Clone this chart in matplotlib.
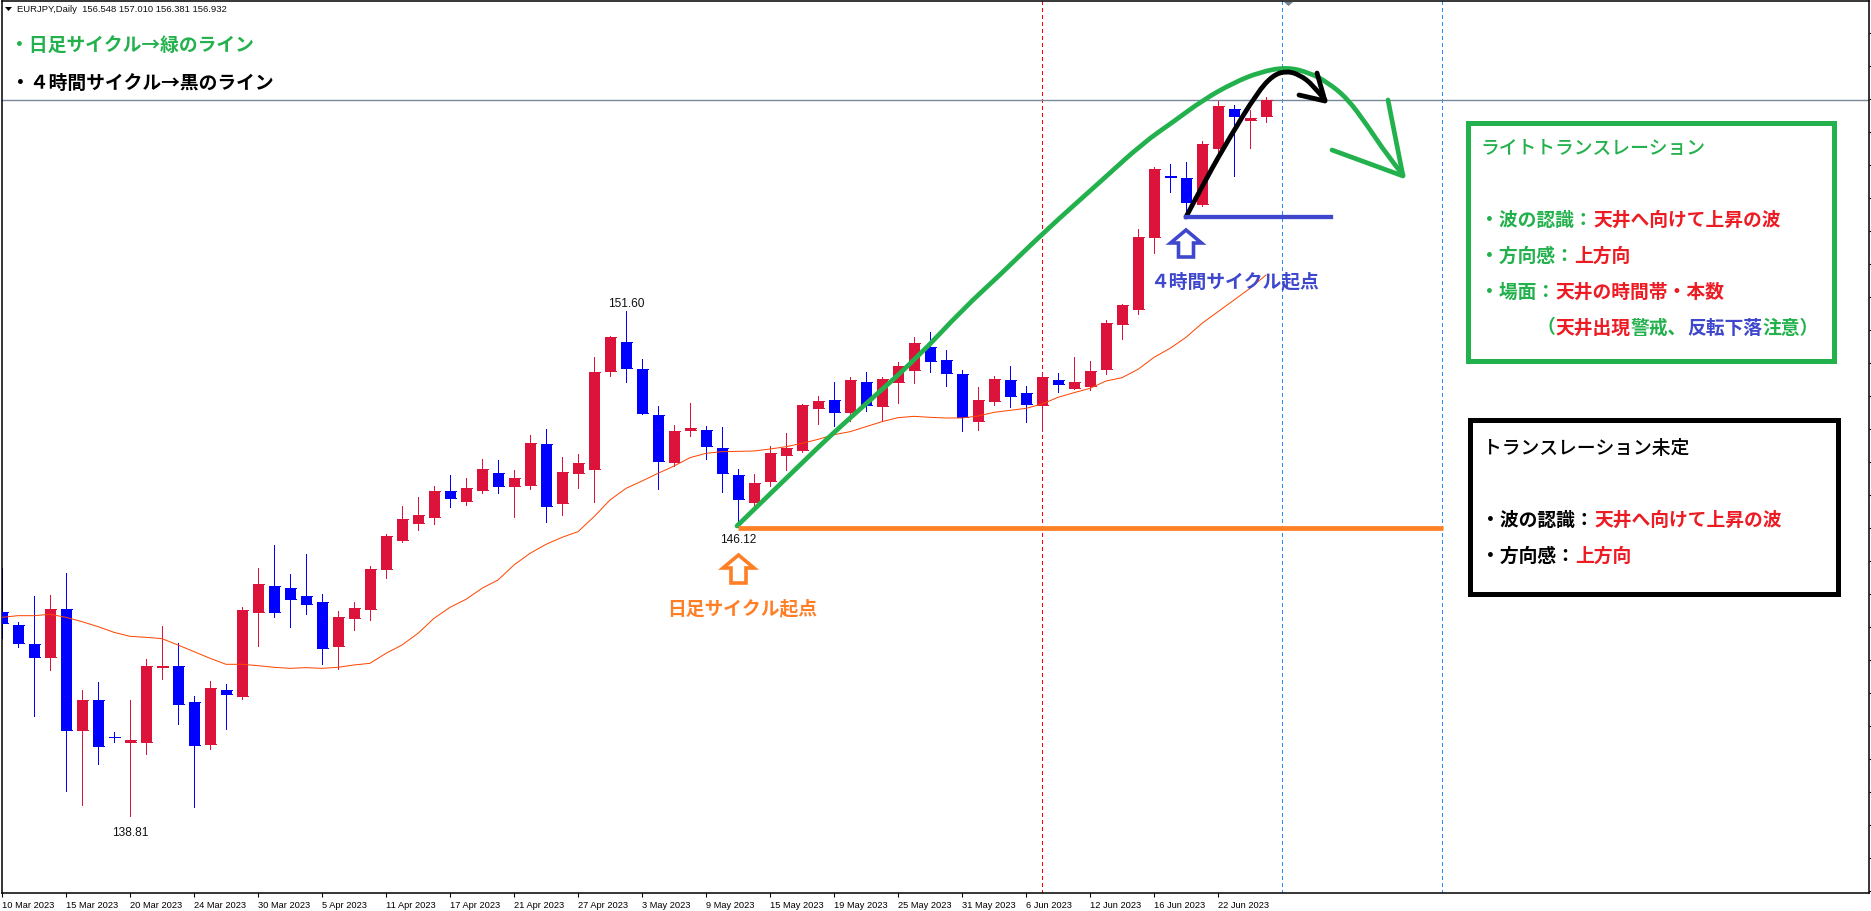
import matplotlib
matplotlib.use('Agg')
import matplotlib.pyplot as plt
from matplotlib.patches import Polygon, Rectangle, PathPatch
from matplotlib.path import Path

plt.rcParams['font.family'] = ['Noto Sans CJK JP', 'DejaVu Sans']

# EURJPY daily bars
opens = [143.976, 143.647, 143.166, 142.836, 144.052, 140.987, 141.747, 140.819, 140.683, 140.683,
         142.583, 142.608, 141.697, 140.633, 142.001, 141.849, 143.976, 144.635, 144.584, 144.382,
         144.23, 143.115, 143.824, 144.052, 145.065, 145.8, 146.231, 146.383, 147.041, 146.788,
         147.066, 147.497, 147.168, 147.193, 148.232, 146.737, 147.497, 147.598, 150.08, 150.815,
         150.131, 148.966, 147.775, 148.586, 148.586, 148.13, 147.446, 146.762, 147.294, 147.952,
         148.079, 149.143, 149.346, 149.042, 149.801, 149.194, 149.801, 150.105, 150.688, 150.359,
         150.004, 148.814, 149.32, 149.852, 149.523, 149.219, 149.852, 149.649, 149.7, 150.131,
         151.27, 151.65, 153.474, 155.019, 154.968, 154.31, 155.728, 156.716, 156.438, 156.548]
highs = [145.082, 143.723, 144.382, 144.407, 144.964, 142.001, 142.203, 140.937, 141.747, 142.786,
         143.622, 143.191, 141.849, 142.229, 142.153, 144.103, 145.091, 145.673, 144.939, 145.445,
         144.432, 144.002, 144.23, 145.141, 145.952, 146.661, 146.889, 147.168, 147.446, 147.37,
         147.852, 147.826, 147.573, 148.459, 148.611, 147.902, 147.978, 150.435, 150.967, 151.6,
         150.384, 149.194, 148.712, 149.27, 148.687, 148.662, 147.598, 147.471, 148.18, 148.51,
         149.244, 149.447, 149.801, 149.928, 150.055, 149.928, 150.308, 150.941, 151.068, 150.612,
         150.105, 149.675, 149.953, 150.207, 149.7, 150.004, 150.029, 150.435, 150.333, 151.372,
         151.777, 153.677, 155.247, 155.323, 155.374, 155.906, 156.919, 156.817, 156.691, 157.01]
lows = [143.326, 143.09, 141.342, 142.507, 139.442, 139.088, 140.126, 140.683, 138.81, 140.38,
        142.279, 141.139, 139.037, 140.506, 141.013, 141.773, 143.115, 143.85, 143.596, 143.926,
        142.659, 142.533, 143.52, 143.774, 144.837, 145.749, 146.053, 146.205, 146.636, 146.686,
        146.99, 146.99, 146.383, 147.092, 146.256, 146.433, 147.117, 146.762, 149.953, 149.801,
        148.991, 147.091, 147.674, 148.434, 147.851, 147.015, 146.12, 146.644, 147.167, 147.572,
        148.028, 148.738, 148.687, 148.814, 149.067, 148.814, 149.27, 149.776, 150.055, 149.7,
        148.56, 148.586, 149.219, 149.168, 148.788, 148.586, 149.548, 149.624, 149.599, 150.004,
        150.89, 151.524, 153.069, 154.614, 154.073, 154.259, 155.551, 155.019, 155.728, 156.381]
closes = [143.698, 143.191, 142.836, 144.052, 140.987, 141.747, 140.582, 140.81, 140.734, 142.608,
          142.608, 141.646, 140.607, 142.051, 141.899, 144.027, 144.685, 143.976, 144.306, 144.179,
          143.064, 143.85, 144.078, 145.065, 145.901, 146.332, 146.433, 147.041, 146.864, 147.117,
          147.598, 147.168, 147.37, 148.257, 146.661, 147.522, 147.75, 150.055, 150.941, 150.156,
          149.016, 147.8, 148.56, 148.636, 148.18, 147.497, 146.838, 147.243, 148.003, 148.13,
          149.219, 149.32, 149.042, 149.852, 149.219, 149.877, 150.207, 150.789, 150.333, 150.029,
          148.915, 149.346, 149.877, 149.447, 149.244, 149.928, 149.751, 149.801, 150.08, 151.296,
          151.752, 153.474, 155.196, 154.994, 154.361, 155.83, 156.792, 156.539, 156.488, 156.932]
ma_line = [143.841, 143.883, 143.883, 143.917, 143.841, 143.731, 143.605, 143.461, 143.36, 143.335,
           143.301, 143.14, 142.972, 142.803, 142.651, 142.651, 142.617, 142.575, 142.549, 142.566,
           142.549, 142.575, 142.634, 142.676, 142.929, 143.14, 143.436, 143.816, 144.094, 144.297,
           144.576, 144.787, 145.167, 145.462, 145.69, 145.867, 146.011, 146.39, 146.813, 147.108,
           147.294, 147.488, 147.674, 147.885, 147.995, 148.037, 148.045, 148.054, 148.104, 148.163,
           148.248, 148.349, 148.467, 148.543, 148.67, 148.797, 148.898, 148.932, 148.907, 148.89,
           148.89, 148.94, 149.033, 149.084, 149.134, 149.244, 149.413, 149.531, 149.641, 149.827,
           149.911, 150.122, 150.426, 150.654, 150.933, 151.287, 151.583, 151.878, 152.174, 152.512]

tick_bars = list(range(0, 80, 4))
date_labels = ['10 Mar 2023', '15 Mar 2023', '20 Mar 2023', '24 Mar 2023', '30 Mar 2023', '5 Apr 2023',
               '11 Apr 2023', '17 Apr 2023', '21 Apr 2023', '27 Apr 2023', '3 May 2023', '9 May 2023',
               '15 May 2023', '19 May 2023', '25 May 2023', '31 May 2023', '6 Jun 2023', '12 Jun 2023',
               '16 Jun 2023', '22 Jun 2023']
price_ticks = [158.65, 157.81, 156.98, 156.14, 155.31, 154.47, 153.63, 152.80, 151.96, 151.13, 150.29,
               149.45, 148.62, 147.78, 146.95, 146.11, 145.27, 144.44, 143.60, 142.77, 141.93, 141.09,
               140.26, 139.42, 138.59, 137.75, 136.91]

# hand drawn lines, in picture pixels
green_curve = [(737, 526), (803, 462), (831, 435), (867, 403), (917, 358), (964, 308), (1000, 275),
               (1043, 233), (1100, 182), (1143, 143), (1173, 122), (1203, 100), (1233, 83), (1260, 72),
               (1287, 67), (1310, 73), (1327, 82), (1347, 98), (1367, 125), (1387, 155), (1403, 175)]
green_head = [(1388, 100), (1403, 176), (1332, 150)]
black_curve = [(1186, 217), (1207, 177), (1230, 137), (1257, 93), (1273, 75), (1287, 71), (1300, 75),
               (1313, 85), (1325, 100)]
black_head = [(1317, 73), (1325, 101), (1299, 95)]

GREEN = '#22B14C'
BLACK = '#000000'
RED = '#ED1C24'
BLUE = '#3F48CC'
ORANGE = '#FF7F27'
UP = '#DC143C'
DOWN = '#0000FF'
EM = 18.8

fig = plt.figure(figsize=(18.71, 9.11), dpi=100, facecolor='white')
ax = fig.add_axes([2 / 1871, (911 - 893) / 911, (1869 - 2) / 1871, (893 - 1) / 911])
ax.set_xlim(0, (1869 - 2) / 16)
ax.set_ylim(151.6 - (893 - 311) / 39.48, 151.6 + (311 - 1) / 39.48)
for s in ax.spines.values():
    s.set_linewidth(1.1)

ax.axvline(65, color='#FF0000', lw=0.75, ls=(0, (3, 3)), zorder=1, antialiased=False)
ax.axvline(80, color='#1E90FF', lw=0.75, ls=(0, (3, 3)), zorder=1, antialiased=False)
ax.axvline(90, color='#1E90FF', lw=0.75, ls=(0, (3, 3)), zorder=1, antialiased=False)
ax.axhline(closes[-1], color='#778899', lw=1, zorder=1)

bars = list(range(len(opens)))
colors = [UP if c >= o else DOWN for o, c in zip(opens, closes)]
half = 5.5 / 16
ax.vlines(bars, lows, highs, colors=colors, lw=0.72, zorder=2, antialiased=False, capstyle='butt')
ax.bar(bars, [abs(c - o) for o, c in zip(opens, closes)], bottom=[min(o, c) for o, c in zip(opens, closes)],
       width=half * 2, color=colors, linewidth=0, zorder=3)
ax.hlines(closes, [b - half for b in bars], [b + half for b in bars], colors=colors, lw=0.72, zorder=3,
          antialiased=False, capstyle='butt')
ax.hlines(opens, [b - half for b in bars], [b + half for b in bars], colors=colors, lw=0.72, zorder=3,
          antialiased=False, capstyle='butt')
ax.plot(bars, ma_line, color='#FF4500', lw=0.72, zorder=4)

ax.set_xticks(tick_bars)
ax.set_xticklabels(date_labels, family='Liberation Sans', fontsize=6.7, ha='left')
ax.set_yticks(price_ticks)
ax.set_yticklabels([])
ax.yaxis.tick_right()
ax.tick_params(axis='x', length=3, width=0.8, pad=2.5)
ax.tick_params(axis='y', length=1.5, width=0.8)

for bar, price, dy in [(8, 138.81, -17), (39, 151.60, 7), (46, 146.12, -13)]:
    ax.annotate('%.2f' % price, (bar, price), xytext=(0, dy), textcoords='offset pixels', ha='center',
                va='center', family='Liberation Sans', fontsize=8.6, color='#111111', zorder=6)

# overlay in picture pixels for the drawn notes
ov = fig.add_axes([0, 0, 1, 1], facecolor='none')
ov.set_xlim(0, 1871)
ov.set_ylim(911, 0)
ov.axis('off')


def stroke(points, color, width):
    ov.plot([p[0] for p in points], [p[1] for p in points], color=color, lw=width * 0.72,
            solid_capstyle='round', solid_joinstyle='round')


def smooth_stroke(points, color, width):
    # quadratic pieces through the midpoints, so the drawn curve has no corners
    verts = [points[0]]
    codes = [Path.MOVETO]
    for i in range(1, len(points) - 1):
        a, b = points[i], points[i + 1]
        end = b if i == len(points) - 2 else ((a[0] + b[0]) / 2, (a[1] + b[1]) / 2)
        verts += [a, end]
        codes += [Path.CURVE3, Path.CURVE3]
    ov.add_patch(PathPatch(Path(verts, codes), fill=False, edgecolor=color, lw=width * 0.72,
                           capstyle='round', joinstyle='round'))


def runs(x, y, parts, weight='bold'):
    n = 0
    for s, c in parts:
        ov.text(x + n * EM, y + 1, s, color=c, fontsize=EM * 0.72, fontweight=weight, ha='left', va='center')
        n += len(s)


def up_arrow(cx, tip, wing, bottom, color):
    pts = [(cx, tip), (cx + 15.5, wing), (cx + 7.5, wing), (cx + 7.5, bottom), (cx - 7.5, bottom), (cx - 7.5, wing),
           (cx - 15.5, wing)]
    ov.add_patch(Polygon(pts, closed=True, facecolor='white', edgecolor=color, lw=2.6, joinstyle='miter'))


ov.plot([738, 1443], [528, 528], color=ORANGE, lw=3.4, solid_capstyle='butt')
ov.plot([1186, 1331], [217, 217], color=BLUE, lw=3.1)
smooth_stroke(green_curve, GREEN, 4.7)
stroke(green_head, GREEN, 4.7)
smooth_stroke(black_curve, BLACK, 4.8)
stroke(black_head, BLACK, 4.8)
up_arrow(738.5, 555, 568, 583, ORANGE)
up_arrow(1186, 230, 243, 257, BLUE)

runs(667, 608, [('日足サイクル起点', ORANGE)])
runs(1150, 281, [('４時間サイクル起点', BLUE)])
runs(10, 45, [('・日足サイクル→緑のライン', GREEN)])
runs(11, 82, [('・４時間サイクル→黒のライン', BLACK)])

ov.add_patch(Rectangle((1468.5, 122.5), 366, 238, fill=False, edgecolor=GREEN, lw=3.6, joinstyle='miter'))
ov.add_patch(Rectangle((1470.5, 419.5), 368, 174, fill=False, edgecolor=BLACK, lw=3.6, joinstyle='miter'))

runs(1480, 147, [('ライトトランスレーション', GREEN)], weight='medium')
runs(1480.5, 219, [('・波の認識：', GREEN), ('天井へ向けて上昇の波', RED)])
runs(1480.5, 255, [('・方向感：', GREEN), ('上方向', RED)])
runs(1480.5, 291, [('・場面：', GREEN), ('天井の時間帯・本数', RED)])
runs(1480.5 + 3 * EM, 327, [('（', GREEN), ('天井出現', RED), ('警戒、', GREEN), ('反転下落', BLUE), ('注意）', GREEN)])
runs(1483, 447, [('トランスレーション未定', BLACK)], weight='medium')
runs(1481.5, 519, [('・波の認識：', BLACK), ('天井へ向けて上昇の波', RED)])
runs(1481.5, 555, [('・方向感：', BLACK), ('上方向', RED)])

# chart header and the shift marker
ov.add_patch(Polygon([(5, 7), (12, 7), (8.5, 11)], closed=True, color='black', lw=0))
ov.text(17, 9.5, 'EURJPY,Daily  156.548 157.010 156.381 156.932', family='Liberation Sans', fontsize=6.8,
        ha='left', va='center', color='#111111')
ov.add_patch(Polygon([(1284, 2), (1293, 2), (1288.5, 6)], closed=True, color='#708090', lw=0))

fig.savefig('out.png', dpi=100)
